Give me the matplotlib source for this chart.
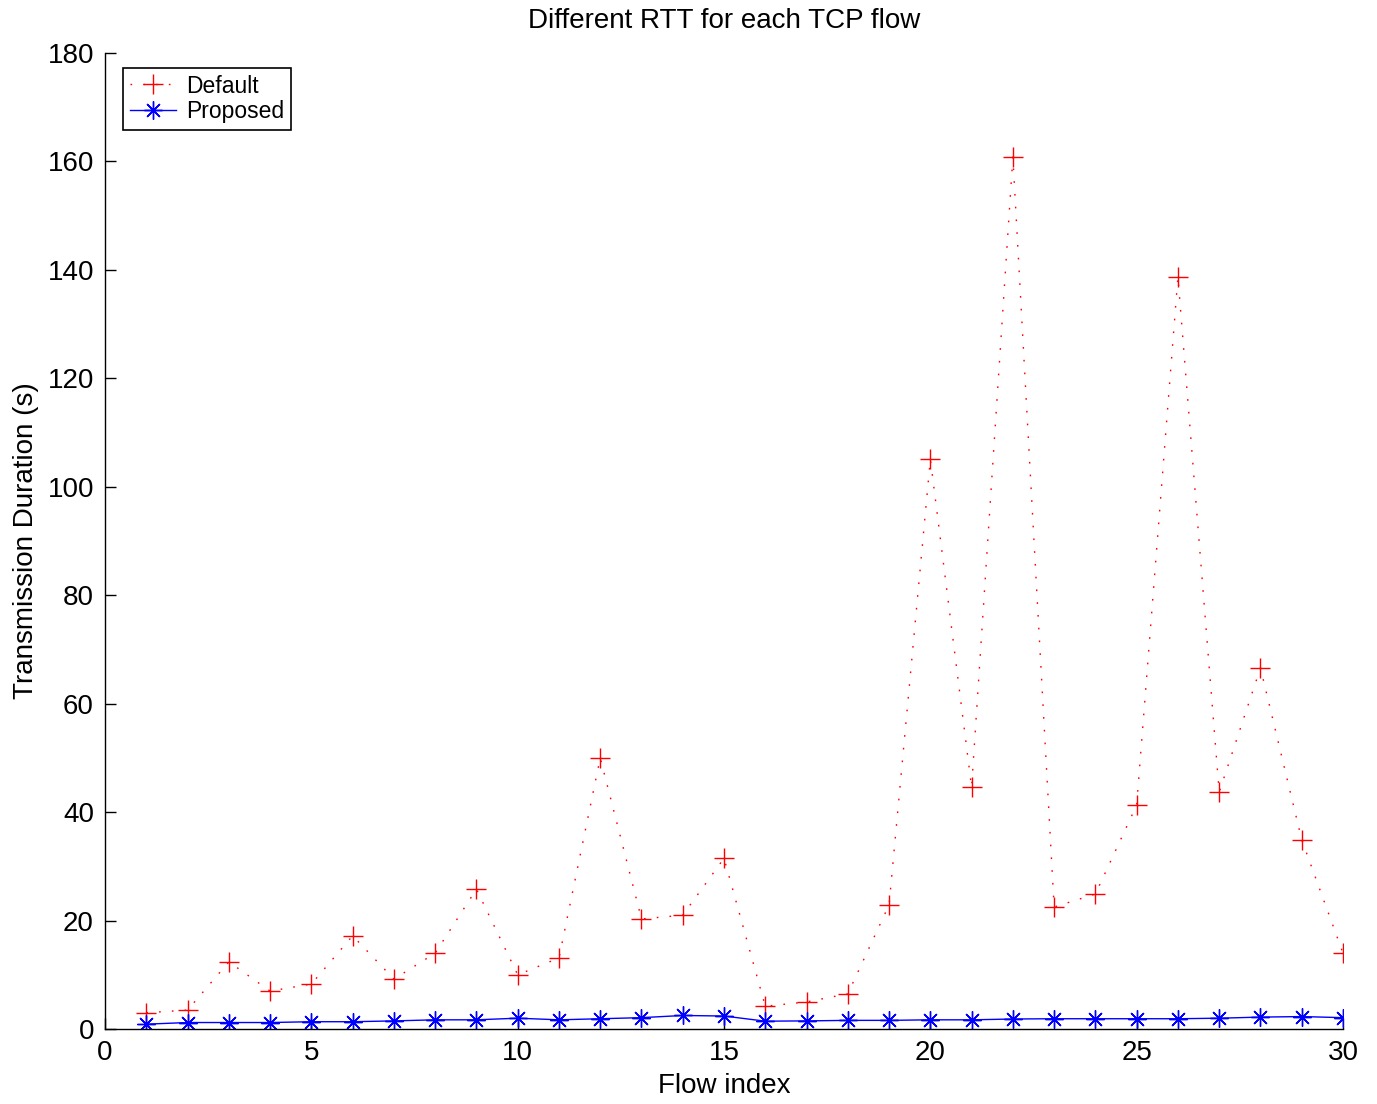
import matplotlib
matplotlib.use('Agg')
import matplotlib.pyplot as plt

plt.rcParams['font.family'] = ['Liberation Sans', 'DejaVu Sans']

# Data
flowIndex = list(range(1, 31))
defaultDur = [3.0, 3.5, 12.4, 7.0, 8.3, 17.2, 9.2, 14.0, 25.8, 10.0,
              13.1, 50.0, 20.3, 21.0, 31.5, 4.2, 5.0, 6.5, 22.9, 105.1,
              44.6, 160.8, 22.5, 24.9, 41.3, 138.7, 43.7, 66.6, 34.9, 14.0]
proposedDur = [0.9, 1.2, 1.2, 1.2, 1.35, 1.35, 1.5, 1.7, 1.7, 2.0,
               1.7, 1.9, 2.1, 2.5, 2.4, 1.45, 1.5, 1.6, 1.6, 1.7,
               1.7, 1.85, 1.9, 1.9, 1.9, 1.9, 2.0, 2.2, 2.3, 2.1]
xTicks = [0, 5, 10, 15, 20, 25, 30]
yTicks = list(range(0, 181, 20))

fig = plt.figure(figsize=(13.77, 11.04), dpi=100)
ax = fig.add_axes([0.0763, 0.0679, 0.899, 0.8841])

ax.plot(flowIndex, defaultDur, linestyle=(0, (1.2, 8)), color='red', marker='+',
        markersize=15, markeredgewidth=1.0, linewidth=1.0, label='Default')
ax.plot(flowIndex, proposedDur, '-', color='blue', marker=(8, 2, 0), markersize=13,
        markeredgewidth=1.0, linewidth=1.0, label='Proposed')

ax.set_xlim(0, 30)
ax.set_ylim(0, 180)
ax.set_xticks(xTicks)
ax.set_yticks(yTicks)
ax.tick_params(direction='in', length=8, width=1, labelsize=20, pad=8)
ax.spines['top'].set_visible(False)
ax.spines['right'].set_visible(False)
ax.spines['left'].set_linewidth(1)
ax.spines['bottom'].set_linewidth(1)

ax.set_xlabel('Flow index', fontsize=20, labelpad=5)
ax.set_ylabel('Transmission Duration (s)', fontsize=20, labelpad=6)
ax.set_title('Different RTT for each TCP flow', fontsize=20, pad=18)

leg = ax.legend(loc='upper left', bbox_to_anchor=(0.0145, 0.985), fontsize=16.5,
                fancybox=False, edgecolor='black', framealpha=1,
                borderpad=0.3, labelspacing=0.12, handlelength=2.0,
                handletextpad=0.45, borderaxespad=0)
leg.get_frame().set_linewidth(1.2)

plt.savefig('out.png', dpi=100)
